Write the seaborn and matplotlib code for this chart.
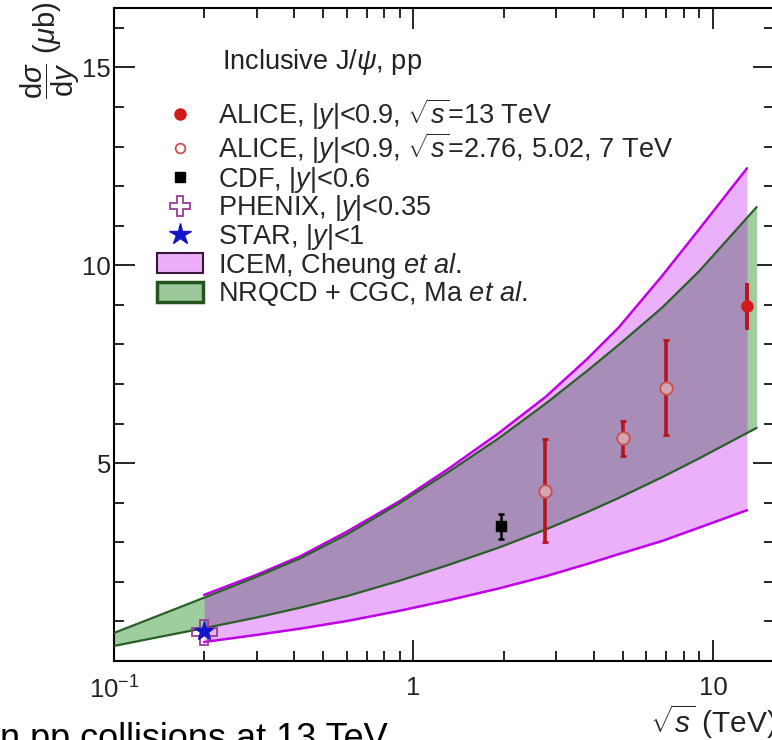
import numpy as np
import matplotlib
matplotlib.use('Agg')
import matplotlib.pyplot as plt
import seaborn as sns
from matplotlib.lines import Line2D
from matplotlib.patches import Patch
from matplotlib.ticker import FixedLocator, FixedFormatter, MultipleLocator, NullFormatter

# ---------------- data ----------------
icem_x = [0.2, 0.3, 0.42, 0.6, 0.9, 1.3, 1.92, 2.76, 3.8, 4.85, 6.75, 9.0, 13.0]
icem_hi = [1.67, 2.18, 2.65, 3.27, 4.04, 4.84, 5.75, 6.67, 7.63, 8.43, 9.72, 10.91, 12.45]
icem_lo = [0.48, 0.66, 0.82, 1.01, 1.27, 1.53, 1.83, 2.14, 2.45, 2.70, 3.03, 3.37, 3.81]

nrqcd_x = [0.1, 0.14, 0.2, 0.3, 0.42, 0.6, 0.9, 1.3, 1.92, 2.76, 3.8, 4.85, 6.75, 9.0, 14.0]
nrqcd_hi = [0.71, 1.14, 1.60, 2.13, 2.60, 3.20, 3.99, 4.76, 5.62, 6.50, 7.33, 7.99, 8.92, 9.85, 11.47]
nrqcd_lo = [0.38, 0.60, 0.83, 1.10, 1.35, 1.64, 2.03, 2.42, 2.86, 3.32, 3.76, 4.12, 4.64, 5.12, 5.89]

alice13_x = [13.0]
alice13_y = [8.96]
alice13_err = [0.6]

alice_x = [2.76, 5.02, 7.0]
alice_y = [4.3, 5.63, 6.9]
alice_err = [1.3, 0.44, 1.2]

cdf_x = [1.96]
cdf_y = [3.4]
cdf_err = [0.32]

phenix_x = [0.2]
phenix_y = [0.73]

star_x = [0.2]
star_y = [0.76]

x_major = [0.1, 1, 10]
x_tick_labels = [r'$10^{-1}$', '1', '10']
y_major = [5, 10, 15]
y_tick_labels = ['5', '10', '15']

legend_labels = [
    r'ALICE, |$y$|<0.9, $\sqrt{s}$=13 TeV',
    r'ALICE, |$y$|<0.9, $\sqrt{s}$=2.76, 5.02, 7 TeV',
    r'CDF, |$y$|<0.6',
    r'PHENIX, |$y$|<0.35',
    r'STAR, |$y$|<1',
    r'ICEM, Cheung $\mathit{et\ al.}$',
    r'NRQCD + CGC, Ma $\mathit{et\ al.}$',
]
header = r'Inclusive J/$\psi$, pp'

# ---------------- style ----------------
sns.set_theme(style='ticks')
plt.rcParams['font.family'] = ['Liberation Sans', 'DejaVu Sans']
plt.rcParams['mathtext.fontset'] = 'custom'
plt.rcParams['mathtext.rm'] = 'Liberation Sans'
plt.rcParams['mathtext.it'] = 'Liberation Sans:italic'
plt.rcParams['mathtext.bf'] = 'Liberation Sans:bold'

FS = 19.5
purple_line = '#C000E6'
icem_fill = '#BE00EF'
green_fill = '#9ECD9E'
dark_green = '#2A5F2A'
red = '#D41A1A'
err_red = '#B8141E'
open_red = '#C85050'
blue = '#1414C8'
phen = '#9A3C9A'
txt = '#222222'

fig = plt.figure(figsize=(7.72, 7.40), dpi=100)
ax = fig.add_axes([114 / 772, 79 / 740, 660 / 772, 653 / 740])
ax.set_xscale('log')

# bands
ax.fill_between(nrqcd_x, nrqcd_lo, nrqcd_hi, color=green_fill, lw=0, zorder=1)
ax.fill_between(icem_x, icem_lo, icem_hi, color=icem_fill, alpha=0.31, lw=0, zorder=2)
for ys in (icem_hi, icem_lo):
    sns.lineplot(x=icem_x, y=ys, ax=ax, color=purple_line, lw=1.8, zorder=3, legend=False)
for ys in (nrqcd_hi, nrqcd_lo):
    sns.lineplot(x=nrqcd_x, y=ys, ax=ax, color=dark_green, lw=1.6, zorder=4, legend=False)

# data points
ax.errorbar(alice_x, alice_y, yerr=alice_err, fmt='none', ecolor=err_red,
            elinewidth=2.6, capsize=2.5, capthick=2.0, zorder=6)
ax.plot(alice_x, alice_y, ls='none', marker='o', ms=9, mfc='#D2A5B0', mec=open_red,
        mew=1.3, zorder=7)
ax.errorbar(alice13_x, alice13_y, yerr=alice13_err, fmt='o', color=red, ecolor=err_red,
            ms=8, elinewidth=2.8, capsize=0, zorder=7)
ax.errorbar(cdf_x, cdf_y, yerr=cdf_err, fmt='s', color='black', ms=7.5,
            elinewidth=1.8, capsize=2.5, capthick=1.8, zorder=7)
ax.plot(phenix_x, phenix_y, ls='none', marker='P', ms=18, mfc='none', mec=phen,
        mew=1.3, zorder=7)
ax.plot(star_x, star_y, ls='none', marker='*', ms=14, color=blue, zorder=8)

ax.set_xlim(0.1, 16)
ax.set_ylim(0, 16.5)
ax.set_xlabel('')
ax.set_ylabel('')

# ticks
ax.xaxis.set_major_locator(FixedLocator(x_major))
ax.xaxis.set_major_formatter(FixedFormatter(x_tick_labels))
minor_x = [k * 10.0 ** e for e in (-1, 0, 1) for k in range(2, 10)]
ax.xaxis.set_minor_locator(FixedLocator(minor_x))
ax.xaxis.set_minor_formatter(NullFormatter())
ax.yaxis.set_major_locator(FixedLocator(y_major))
ax.yaxis.set_major_formatter(FixedFormatter(y_tick_labels))
ax.yaxis.set_minor_locator(MultipleLocator(1))
ax.tick_params(which='both', direction='in', top=True, right=True, color='black',
               labelsize=18.5, labelcolor=txt)
ax.tick_params(which='major', length=15, width=1.2)
ax.tick_params(which='minor', length=7.5, width=1.2)
ax.tick_params(axis='x', which='major', pad=11)
ax.tick_params(axis='y', which='major', pad=2)
for s in ax.spines.values():
    s.set_linewidth(1.5)
    s.set_color('black')

# legend
handles = [
    Line2D([], [], ls='none', marker='o', mfc=red, mec=red, ms=8),
    Line2D([], [], ls='none', marker='o', mfc='white', mec=open_red, ms=7, mew=1.3),
    Line2D([], [], ls='none', marker='s', color='black', ms=7),
    Line2D([], [], ls='none', marker='P', mfc='white', mec=phen, ms=15, mew=1.3),
    Line2D([], [], ls='none', marker='*', color=blue, ms=16),
    Patch(facecolor='#EDAEF9', edgecolor='#3A143A', lw=1.5),
    Patch(facecolor='#9CC89C', edgecolor='#24541E', lw=2.5),
]
ax.legend(handles, legend_labels, loc='upper left', bbox_to_anchor=(0.065, 0.865),
          frameon=False, fontsize=FS, handlelength=1.7, handleheight=0.74,
          handletextpad=0.55, labelspacing=-0.05, borderpad=0, borderaxespad=0)
ax.text((222 - 114) / 660, (661 - 62) / 653, header, transform=ax.transAxes,
        ha='left', va='center', fontsize=FS, color=txt)

# axis titles
fig.text(50 / 772, 1 - 2 / 740, r'$\dfrac{\mathrm{d}\sigma}{\mathrm{d}y}$ ($\mu$b)',
         rotation=90, ha='center', va='top', fontsize=21, color=txt)
fig.text(777 / 772, 1 - 722 / 740, r'$\sqrt{s}$ (TeV)', ha='right', va='center',
         fontsize=21.5, color=txt)
# caption fragment cut at the bottom edge
fig.text(0, (740 - 749) / 740, 'n pp collisions at 13 TeV', ha='left', va='baseline',
         fontsize=26, color='black')

fig.savefig('out.png', dpi=100)
